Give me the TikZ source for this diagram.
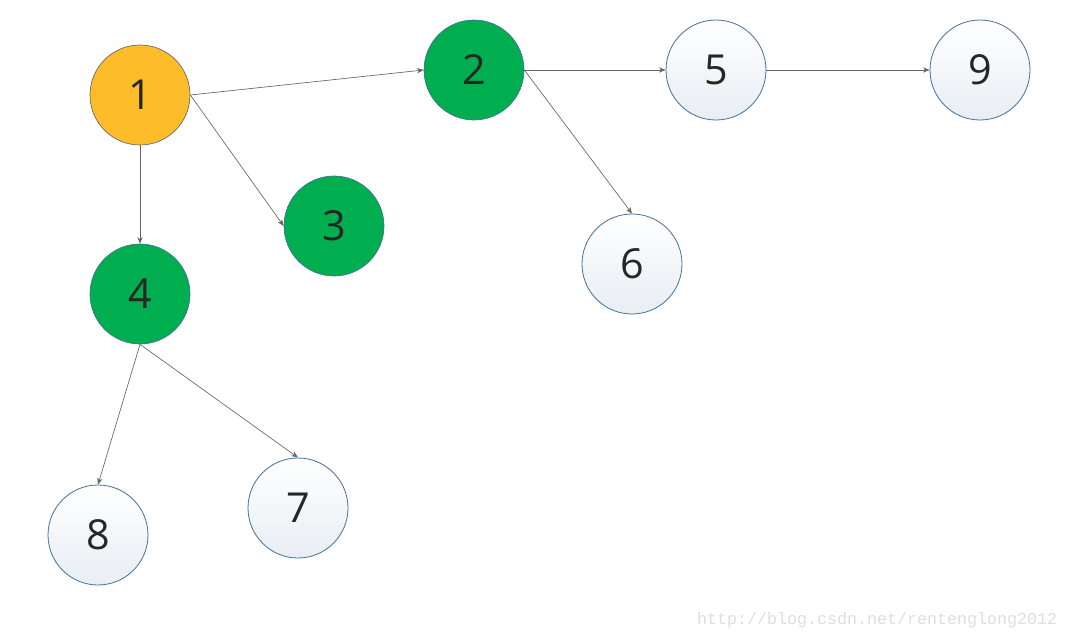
\documentclass[tikz,border=0pt]{standalone}
\usepackage{fontspec}
\setmainfont{Open Sans}
\newfontfamily\markfont{Liberation Mono}
\usetikzlibrary{arrows.meta}

\definecolor{rootorange}{HTML}{FDBC2A}
\definecolor{visitgreen}{HTML}{00AD4F}
\definecolor{rimblue}{HTML}{41719C}
\definecolor{edgegray}{HTML}{666666}
\definecolor{digitgray}{HTML}{262626}

\tikzset{
  vertex/.style={circle, minimum size=75pt, inner sep=0pt, font=\fontsize{31}{31}\selectfont,
    text=digitgray},
  rootnode/.style={vertex, fill=rootorange, draw=edgegray, line width=0.5pt},
  greennode/.style={vertex, fill=visitgreen, draw=rimblue, line width=0.5pt},
  plainnode/.style={vertex, top color=white, bottom color=rimblue!12, draw=rimblue, line width=0.6pt},
  link/.style={-{Stealth[length=5pt,width=4pt]}, draw=edgegray, line width=0.5pt}
}

\begin{document}
\begin{tikzpicture}[x=0.75pt, y=-0.75pt]
\useasboundingbox (0,0) rectangle (1072,639);

% Nodes
\node[rootnode]  (n1) at (140,95)  {1};
\node[greennode] (n2) at (474,70)  {2};
\node[greennode] (n3) at (334,226) {3};
\node[greennode] (n4) at (140,294) {4};
\node[plainnode] (n5) at (716,70)  {5};
\node[plainnode] (n6) at (632,264) {6};
\node[plainnode] (n7) at (298,508) {7};
\node[plainnode] (n8) at (98,535)  {8};
\node[plainnode] (n9) at (980,70)  {9};

% Edges
\draw[link] (n1.east) -- (n2.west);
\draw[link] (n1.east) -- (n3.west);
\draw[link] (n1.south) -- (n4.north);
\draw[link] (n2.east) -- (n5.west);
\draw[link] (n2.east) -- (n6.north);
\draw[link] (n5.east) -- (n9.west);
\draw[link] (n4.south) -- (n8.north);
\draw[link] (n4.south) -- (n7.north);

% Watermark
\node[font=\markfont\fontsize{12.5}{12.5}\selectfont, text=black!13, anchor=east] (mark) at (1062,620)
  {http://blog.csdn.net/rentenglong2012};

\end{tikzpicture}
\end{document}
